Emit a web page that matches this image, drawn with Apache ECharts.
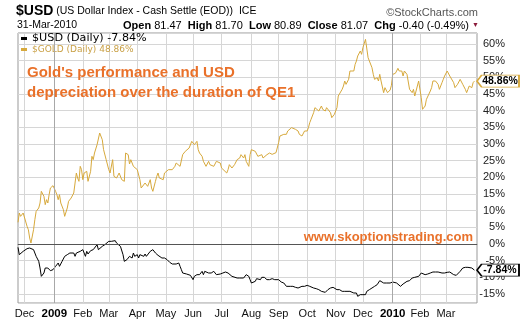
<!DOCTYPE html>
<html><head><meta charset="utf-8">
<script src="https://cdn.jsdelivr.net/npm/echarts@6/dist/echarts.min.js"></script>
<style>html,body{margin:0;padding:0;background:#fff}#c{width:524px;height:322px}</style>
</head><body><div id="c"></div>
<script>
// ---- data ----
const startDate = '2008-11-24';   // first session shown (weekday index 0)
const endDate = '2010-04-02';     // right edge of the plot
const tickLabels = ['Dec','2009','Feb','Mar','Apr','May','Jun','Jul','Aug','Sep','Oct','Nov','Dec','2010','Feb','Mar'];
const seriesNames = ['$USD (Daily)', '$GOLD (Daily)'];
const lastValues = [-7.84, 48.86];
// [session index, % change]
const goldData = [[0,6.5],[1,9.3],[2,8.3],[4,9.3],[5,8.8],[7,5.3],[8,4.3],[9,1.8],[10,0.3],[12,4.3],[13,7.3],[14,9.8],[16,10.8],[17,12.3],[18,15.8],[20,14.3],[21,11.8],[22,13.3],[23,12.3],[24,14.8],[25,16.8],[26,16.3],[27,17.5],[29,15.8],[30,14.8],[31,13.3],[32,14.8],[33,12.3],[34,11.8],[35,10.3],[36,8.3],[37,7.8],[38,10.8],[39,12.8],[41,13.8],[42,14.3],[43,15.3],[44,18.3],[45,21.3],[46,19.8],[47,18.8],[48,23.3],[49,22.3],[50,19.3],[51,21.3],[53,21.8],[54,18.8],[56,21.8],[57,26.3],[58,25.3],[59,27.3],[61,29.8],[62,30.3],[63,33.3],[65,31.3],[66,28.3],[68,25.3],[69,25.3],[70,22.3],[71,21.3],[73,25.3],[74,20.3],[76,19.8],[78,21.3],[80,19.3],[82,18.8],[83,27.3],[85,26.8],[86,24.0],[87,25.3],[89,23.3],[90,22.8],[92,22.3],[94,19.3],[95,16.8],[98,18.3],[100,17.3],[102,19.3],[103,16.8],[104,15.8],[106,18.8],[107,20.3],[108,21.3],[109,19.8],[112,19.3],[113,21.3],[116,22.3],[117,22.8],[119,22.3],[121,23.3],[122,24.3],[125,23.3],[127,26.8],[129,27.8],[130,27.3],[132,28.8],[134,30.8],[135,31.3],[136,29.8],[138,30.8],[139,28.3],[140,27.3],[142,26.3],[143,24.8],[144,24.3],[145,23.3],[147,24.8],[148,23.8],[151,23.3],[153,24.8],[154,25.3],[156,24.3],[157,22.8],[158,22.3],[161,21.3],[162,22.3],[163,23.8],[165,22.8],[167,23.8],[169,25.3],[171,25.8],[172,26.8],[174,25.8],[175,26.8],[176,24.8],[178,23.3],[179,26.8],[180,28.3],[181,28.8],[183,27.8],[184,27.3],[185,26.3],[188,26.8],[189,25.8],[192,26.8],[194,27.3],[196,26.9],[197,26.4],[199,27.4],[201,30.4],[202,32.4],[205,32.9],[207,32.9],[208,33.9],[211,34.9],[212,35.4],[214,34.4],[215,34.4],[216,33.9],[217,32.9],[219,32.4],[220,32.9],[221,33.9],[223,33.9],[224,34.9],[225,36.4],[226,37.4],[228,39.4],[229,40.9],[230,40.9],[232,39.9],[233,40.4],[234,41.4],[235,40.4],[237,39.9],[238,40.9],[239,40.4],[241,39.4],[242,37.9],[243,37.4],[244,38.9],[246,40.9],[247,44.4],[248,44.9],[250,46.4],[251,47.4],[252,48.9],[253,47.9],[255,49.4],[256,51.9],[257,52.4],[259,51.9],[260,53.9],[261,54.9],[262,56.4],[264,57.9],[265,56.9],[266,58.9],[268,61.4],[269,61.9],[270,55.9],[271,54.9],[273,52.9],[274,50.9],[275,49.4],[277,49.9],[278,48.9],[279,50.9],[280,48.9],[282,45.4],[283,46.9],[284,47.4],[285,45.4],[287,46.2],[288,47.6],[289,50.9],[291,51.2],[292,51.9],[293,52.7],[294,51.9],[296,51.9],[297,50.4],[298,51.9],[300,50.9],[301,50.4],[302,46.4],[304,45.4],[305,46.4],[306,44.4],[307,43.9],[309,48.9],[310,48.4],[311,43.9],[312,40.4],[314,41.4],[315,43.4],[316,43.9],[318,45.9],[319,46.9],[320,48.9],[322,48.9],[323,49.4],[324,47.9],[325,46.4],[327,48.4],[328,49.4],[329,50.4],[331,51.9],[332,51.4],[333,50.4],[334,50.9],[336,48.4],[337,46.9],[338,47.4],[339,47.9],[341,49.4],[342,49.9],[343,47.9],[345,46.4],[346,45.4],[347,46.4],[348,47.4],[350,46.9],[351,48.4],[352,48.86]];
const usdData = [[0,-1.0],[1,-3.2],[2,-2.7],[4,-2.2],[5,-1.7],[7,-1.4],[8,-1.7],[9,-1.2],[10,-1.0],[12,-1.7],[13,-2.2],[14,-3.7],[16,-5.2],[17,-7.2],[18,-9.7],[19,-10.2],[20,-8.7],[21,-7.2],[22,-7.7],[23,-7.2],[25,-8.0],[26,-8.2],[27,-7.7],[29,-6.7],[30,-6.2],[31,-5.7],[32,-6.7],[34,-5.2],[35,-4.7],[36,-3.7],[38,-3.2],[39,-3.7],[40,-2.7],[41,-2.2],[43,-2.7],[44,-3.7],[45,-2.7],[46,-3.2],[48,-2.2],[49,-2.7],[50,-1.7],[52,-3.7],[53,-2.2],[54,-3.0],[56,-2.0],[57,-2.2],[58,-1.7],[59,-1.2],[61,-0.2],[62,-1.7],[63,-1.2],[65,-0.7],[66,-0.4],[67,-0.2],[68,0.3],[70,0.8],[71,1.0],[72,0.8],[73,1.3],[75,1.0],[76,0.3],[77,-0.2],[79,-0.7],[80,-1.2],[81,-3.2],[82,-5.2],[84,-4.7],[85,-4.4],[86,-3.7],[88,-4.2],[89,-2.7],[90,-3.7],[92,-3.2],[93,-4.2],[94,-3.2],[95,-2.7],[97,-3.7],[98,-3.0],[99,-3.7],[100,-3.2],[102,-2.2],[103,-1.7],[104,-1.7],[106,-2.7],[107,-3.2],[108,-3.4],[109,-3.7],[111,-4.2],[112,-4.0],[113,-4.2],[115,-4.7],[116,-5.2],[117,-5.5],[119,-6.0],[120,-6.2],[122,-6.0],[124,-5.7],[125,-6.7],[126,-7.7],[127,-8.7],[130,-9.0],[131,-8.7],[133,-9.4],[134,-9.7],[135,-10.7],[136,-9.7],[138,-9.2],[139,-8.7],[140,-9.2],[142,-8.2],[143,-9.2],[144,-8.2],[145,-8.2],[147,-8.7],[148,-8.2],[149,-8.7],[151,-8.2],[152,-8.7],[153,-9.2],[154,-9.2],[156,-9.0],[157,-8.7],[158,-8.7],[160,-8.4],[161,-8.2],[162,-8.7],[163,-9.2],[165,-9.7],[166,-10.0],[169,-10.2],[171,-10.2],[172,-10.0],[174,-10.2],[175,-9.7],[176,-9.2],[178,-9.7],[179,-10.7],[180,-11.7],[181,-11.7],[183,-11.2],[184,-10.4],[185,-10.2],[187,-10.7],[188,-10.0],[189,-10.4],[190,-10.0],[192,-10.7],[193,-11.0],[194,-10.7],[196,-10.4],[197,-11.0],[198,-10.7],[199,-11.0],[201,-10.7],[202,-11.0],[203,-11.4],[205,-11.7],[206,-12.2],[207,-12.7],[208,-13.0],[210,-12.7],[211,-13.2],[212,-12.7],[214,-13.0],[215,-12.7],[216,-13.2],[217,-13.0],[219,-12.7],[220,-12.4],[221,-12.7],[223,-12.4],[224,-12.2],[225,-12.7],[226,-12.5],[228,-13.2],[229,-13.0],[230,-13.4],[232,-13.7],[233,-14.0],[234,-14.2],[235,-14.2],[237,-14.5],[238,-14.2],[239,-13.7],[241,-13.2],[242,-13.2],[243,-13.0],[244,-13.2],[246,-13.7],[247,-13.2],[248,-13.7],[250,-14.2],[251,-14.6],[252,-14.2],[253,-14.7],[256,-14.2],[259,-14.7],[260,-14.2],[261,-14.7],[262,-15.7],[264,-15.2],[265,-15.7],[266,-15.2],[268,-15.2],[269,-14.2],[270,-13.7],[271,-13.7],[273,-13.2],[274,-12.7],[275,-12.7],[277,-12.2],[278,-11.7],[279,-11.0],[280,-11.4],[282,-11.7],[283,-11.4],[284,-11.7],[285,-11.4],[287,-11.7],[288,-11.7],[289,-11.4],[292,-11.7],[293,-12.2],[295,-12.7],[296,-12.2],[297,-12.0],[298,-11.7],[300,-11.2],[301,-10.7],[302,-11.0],[304,-10.2],[305,-10.4],[306,-10.0],[307,-9.7],[309,-9.7],[310,-10.0],[311,-8.7],[312,-9.0],[314,-9.2],[315,-8.7],[316,-9.0],[318,-8.7],[319,-8.7],[320,-8.4],[322,-8.4],[323,-8.2],[324,-8.4],[325,-8.2],[327,-8.7],[328,-8.4],[329,-8.7],[331,-8.5],[332,-8.7],[333,-8.4],[334,-8.7],[336,-9.2],[337,-9.0],[338,-9.4],[339,-9.0],[341,-8.2],[342,-7.7],[343,-7.2],[345,-7.0],[346,-6.4],[347,-7.0],[348,-7.2],[350,-7.2],[351,-7.7],[352,-7.84]];

// ---- build sessions (weekdays) ----
const cats = [];
for (let t = Date.parse(startDate + 'T00:00:00Z'); t <= Date.parse(endDate + 'T00:00:00Z'); t += 86400000) {
  const d = new Date(t); const wd = d.getUTCDay();
  if (wd !== 0 && wd !== 6) cats.push(d.toISOString().slice(0, 10));
}
const labelAt = {};
const yearLines = [];
let k = 0;
for (let i = 1; i < cats.length && k < tickLabels.length; i++) {
  if (cats[i].slice(0, 7) !== cats[i - 1].slice(0, 7)) {
    labelAt[i] = tickLabels[k];
    if (/^\d{4}$/.test(tickLabels[k])) yearLines.push({ xAxis: cats[i] });
    k++;
  }
}
const isTick = (i) => labelAt[i] !== undefined;

const GOLD = '#D7A93C', ORANGE = '#E9712A', FONT = 'Liberation Sans';
const tagPath = 'path://M0,6L5,0L45,0L45,12L5,12Z';
function tag(value, border) {
  return {
    symbol: tagPath, symbolSize: [42, 12], symbolOffset: [21, 0], symbolKeepAspect: false,
    silent: true, animation: false,
    itemStyle: { color: '#fff', borderColor: border, borderWidth: 1 },
    label: { show: true, position: 'inside', offset: [2, 0], formatter: value.toFixed(2) + '%',
             color: '#000', fontWeight: 'bold', fontSize: 10.5, fontFamily: FONT },
    data: [{ coord: [cats.length - 1, value] }]
  };
}

const chart = echarts.init(document.getElementById('c'), null, { renderer: 'canvas' });
chart.setOption({
  animation: false,
  backgroundColor: '#fff',
  textStyle: { fontFamily: FONT },
  title: [
    { left: 16, top: 3, padding: 0,
      text: '{a|$USD} {b|(US Dollar Index - Cash Settle (EOD))  ICE}',
      textStyle: { fontWeight: 'normal', fontSize: 10.5, fontFamily: FONT, lineHeight: 17, rich: {
        a: { fontSize: 14, fontWeight: 'bold', color: '#000', fontFamily: FONT, lineHeight: 17 },
        b: { fontSize: 10.5, fontWeight: 'normal', color: '#000', fontFamily: FONT, lineHeight: 17 } } } },
    { right: 46, top: 7, padding: 0, text: '\u00A9StockCharts.com',
      textStyle: { fontSize: 11, color: '#555', fontWeight: 'normal', fontFamily: FONT } },
    { left: 17, top: 19, padding: 0, text: '31-Mar-2010',
      textStyle: { fontSize: 10.5, color: '#000', fontWeight: 'normal', fontFamily: FONT, lineHeight: 13 } },
    { left: 123, top: 19, padding: 0,
      text: '{h|Open} {v|81.47}  {h|High} {v|81.70}  {h|Low} {v|80.89}  {h|Close} {v|81.07}  {h|Chg} {v|-0.40 (-0.49%)} {r|\u25BC}',
      textStyle: { fontWeight: 'normal', fontSize: 11, fontFamily: FONT, lineHeight: 13, rich: {
        h: { fontSize: 11, fontWeight: 'bold', color: '#000', fontFamily: FONT, lineHeight: 13 },
        v: { fontSize: 11, fontWeight: 'normal', color: '#000', fontFamily: FONT, lineHeight: 13 },
        r: { fontSize: 7, fontWeight: 'normal', color: '#8B1A3A', fontFamily: FONT, lineHeight: 13 } } } },
    { left: 27, top: 63, padding: 0,
      text: "Gold's performance and USD\ndepreciation over the duration of QE1",
      textStyle: { fontSize: 15, fontWeight: 'bold', color: ORANGE, fontFamily: FONT, lineHeight: 20 } },
    { right: 51, top: 229, padding: 0, text: 'www.skoptionstrading.com',
      textStyle: { fontSize: 13, fontWeight: 'bold', color: ORANGE, fontFamily: FONT, lineHeight: 16 } }
  ],
  legend: {
    orient: 'vertical', left: 21, top: 33, padding: 0, itemGap: 0,
    itemWidth: 6, itemHeight: 3, icon: 'rect', selectedMode: false,
    textStyle: { fontFamily: 'DejaVu Sans', fontSize: 9.5, lineHeight: 11 },
    data: [
      { name: seriesNames[0], textStyle: { color: '#000', fontSize: 11.2 } },
      { name: seriesNames[1], textStyle: { color: '#C9A045', fontSize: 9 } }
    ],
    formatter: (n) => n + ' ' + lastValues[seriesNames.indexOf(n)].toFixed(2) + '%'
  },
  grid: { left: 18, right: 47, top: 33, bottom: 19, show: true, borderColor: '#999', borderWidth: 1, containLabel: false },
  xAxis: {
    type: 'category', data: cats, boundaryGap: false,
    axisLine: { show: true, lineStyle: { color: '#999' } },
    axisTick: { show: false },
    axisLabel: {
      interval: isTick, margin: 5, color: '#111', fontSize: 11, fontFamily: FONT,
      formatter: (v, i) => { const s = labelAt[i] || ''; return /^\d{4}$/.test(s) ? '{y|' + s + '}' : s; },
      rich: { y: { fontWeight: 'bold', fontSize: 11.5, color: '#000', fontFamily: FONT } }
    },
    splitLine: { show: true, interval: isTick, lineStyle: { color: '#d6d6d6', width: 1 } }
  },
  yAxis: {
    type: 'value', position: 'right', min: -17.7, max: 63.3, splitNumber: 16,
    axisLine: { show: false }, axisTick: { show: false },
    axisLabel: {
      margin: 28, align: 'right', color: '#222', fontSize: 11, fontFamily: FONT,
      formatter: (v) => Math.abs(v / 5 - Math.round(v / 5)) < 1e-6 ? Math.round(v) + '%' : ''
    },
    splitLine: { show: true, lineStyle: { color: '#d6d6d6', width: 1 } }
  },
  series: [
    { name: 'grid-marks', type: 'line', data: [], z: 1, silent: true,
      markLine: { silent: true, symbol: 'none', label: { show: false }, animation: false,
        data: [
          ...yearLines.map(d => Object.assign({ lineStyle: { color: '#a8a8a8', width: 1, type: 'solid' } }, d)),
          { yAxis: 0, lineStyle: { color: '#555', width: 1, type: 'solid' } }
        ] } },
    { name: seriesNames[0], type: 'line', data: usdData, z: 3, color: '#000',
      showSymbol: false, lineStyle: { width: 1, color: '#000' }, markPoint: tag(lastValues[0], '#000') },
    { name: seriesNames[1], type: 'line', data: goldData, z: 3, color: GOLD,
      showSymbol: false, lineStyle: { width: 1, color: GOLD }, markPoint: tag(lastValues[1], GOLD) }
  ]
});
</script>
</body></html>
